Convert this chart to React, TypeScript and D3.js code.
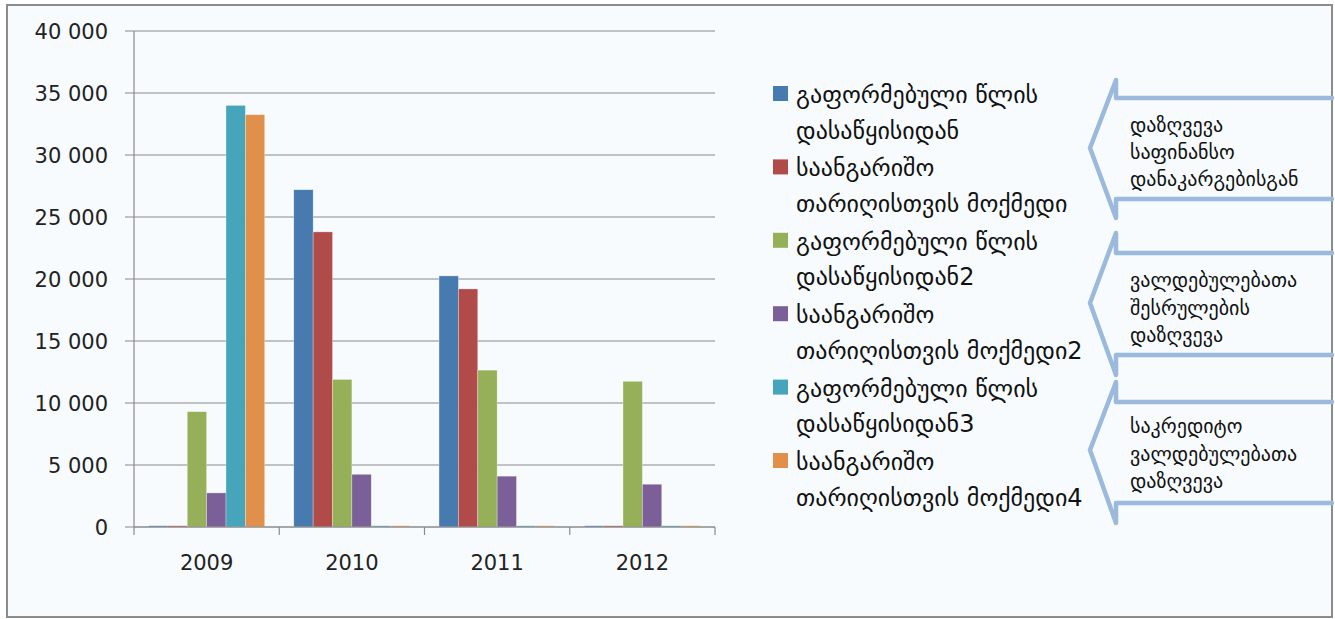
import React from "react";
import * as d3 from "d3";

const years = ["2009", "2010", "2011", "2012"];
const seriesNames = [
  "გაფორმებული წლის დასაწყისიდან",
  "საანგარიშო თარიღისთვის მოქმედი",
  "გაფორმებული წლის დასაწყისიდან2",
  "საანგარიშო თარიღისთვის მოქმედი2",
  "გაფორმებული წლის დასაწყისიდან3",
  "საანგარიშო თარიღისთვის მოქმედი4",
];
const s1 = [100, 27200, 20250, 100];
const s2 = [100, 23800, 19200, 100];
const s3 = [9300, 11900, 12650, 11750];
const s4 = [2750, 4250, 4100, 3450];
const s5 = [34000, 100, 100, 100];
const s6 = [33250, 100, 100, 100];
const seriesValues = [s1, s2, s3, s4, s5, s6];
const colors = ["#477bb0", "#b04b4a", "#95b058", "#7b5f99", "#46a5ba", "#e0904a"];
const yTicks = [0, 5000, 10000, 15000, 20000, 25000, 30000, 35000, 40000];
const calloutTexts = [
  ["დაზღვევა", "საფინანსო", "დანაკარგებისგან"],
  ["ვალდებულებათა", "შესრულების", "დაზღვევა"],
  ["საკრედიტო", "ვალდებულებათა", "დაზღვევა"],
];

const W = 1335;
const H = 619;
const plot = { left: 134, right: 715, top: 31, bottom: 527 };
const FONT = "'DejaVu Sans', sans-serif";

const fmt = (v: number) => {
  const s = d3.format(",")(v);
  return s.replace(/,/g, " ");
};

function splitName(n: string): [string, string] {
  const parts = n.split(" ");
  if (parts.length === 2) return [parts[0], parts[1]];
  if (n.startsWith("საანგარიშო")) return [parts[0], parts.slice(1).join(" ")];
  return [parts.slice(0, 2).join(" "), parts.slice(2).join(" ")];
}

export default function App() {
  const x0 = d3.scaleBand<string>().domain(years).range([plot.left, plot.right]).paddingInner(0).paddingOuter(0);
  const bw = x0.bandwidth();
  const gap = bw / (6 + 1.5) * 1.5;
  const x1 = d3
    .scaleBand<number>()
    .domain(d3.range(6))
    .range([gap / 2, bw - gap / 2])
    .padding(0);
  const y = d3.scaleLinear().domain([0, 40000]).range([plot.bottom, plot.top]);

  const callouts = [
    { top: 98, bottom: 199, wingTop: 80, wingBottom: 218, tipY: 148, lines: [132, 159, 186] },
    { top: 253, bottom: 355, wingTop: 233, wingBottom: 375, tipY: 303, lines: [287, 315, 342] },
    { top: 402, bottom: 503, wingTop: 382, wingBottom: 523, tipY: 450, lines: [433, 461, 488] },
  ];
  const bodyX = 1116;
  const tipX = 1090;
  const rightX = 1332;

  return (
    <svg width={W} height={H} style={{ position: "absolute", left: 0, top: 0 }} fontFamily={FONT}>
      <rect x={0} y={0} width={W} height={H} fill="#ffffff" />
      <rect x={7} y={5} width={1325} height={612} fill="#f7fbfd" stroke="#8c8c8c" strokeWidth={2} />
      {/* gridlines */}
      {yTicks.map((t) => (
        <line key={"g" + t} x1={plot.left - 9} x2={plot.right} y1={y(t)} y2={y(t)} stroke="#8a8a8a" strokeWidth={1.2} />
      ))}
      {/* y axis */}
      <line x1={plot.left} x2={plot.left} y1={plot.top} y2={plot.bottom} stroke="#8a8a8a" strokeWidth={1.2} />
      {yTicks.map((t) => (
        <text key={"yl" + t} x={108} y={y(t) + 8} textAnchor="end" fontSize={21} fill="#222">
          {fmt(t)}
        </text>
      ))}
      {/* bars */}
      {years.map((yr, i) => (
        <g key={yr} transform={`translate(${x0(yr)},0)`}>
          {seriesValues.map((vals, s) => (
            <rect
              key={s}
              x={x1(s)}
              y={y(vals[i])}
              width={x1.bandwidth()}
              height={y(0) - y(vals[i])}
              fill={colors[s]}
              stroke="#ffffff"
              strokeOpacity={0.5}
              strokeWidth={0.6}
            />
          ))}
        </g>
      ))}
      {/* x axis */}
      <line x1={plot.left} x2={plot.right} y1={plot.bottom} y2={plot.bottom} stroke="#8a8a8a" strokeWidth={1.2} />
      {years.concat(["end"]).map((yr, i) => {
        const xx = plot.left + i * bw;
        return <line key={"xt" + i} x1={xx} x2={xx} y1={plot.bottom} y2={plot.bottom + 8} stroke="#8a8a8a" strokeWidth={1.2} />;
      })}
      {years.map((yr) => (
        <text key={"xl" + yr} x={(x0(yr) as number) + bw / 2} y={570} textAnchor="middle" fontSize={21} fill="#222">
          {yr}
        </text>
      ))}
      {/* legend */}
      {seriesNames.map((n, i) => {
        const [l1, l2] = splitName(n);
        const base = 103 + i * 73.4;
        return (
          <g key={"lg" + i}>
            <rect x={773} y={base - 17} width={15} height={15} fill={colors[i]} />
            <text x={796} y={base} fontSize={24} fill="#111">
              {l1}
            </text>
            <text x={796} y={base + 35.5} fontSize={24} fill="#111">
              {l2}
            </text>
          </g>
        );
      })}
      {/* callouts */}
      {callouts.map((c, i) => (
        <g key={"co" + i}>
          <path
            d={`M${rightX},${c.top} L${bodyX},${c.top} L${bodyX},${c.wingTop} L${tipX},${c.tipY} L${bodyX},${c.wingBottom} L${bodyX},${c.bottom} L${rightX},${c.bottom}`}
            fill="none"
            stroke="#9ab9dc"
            strokeWidth={4.5}
            strokeLinejoin="round"
            strokeLinecap="round"
          />
          {calloutTexts[i].map((t, j) => (
            <text key={j} x={1130} y={c.lines[j]} fontSize={20} fill="#111">
              {t}
            </text>
          ))}
        </g>
      ))}
    </svg>
  );
}
